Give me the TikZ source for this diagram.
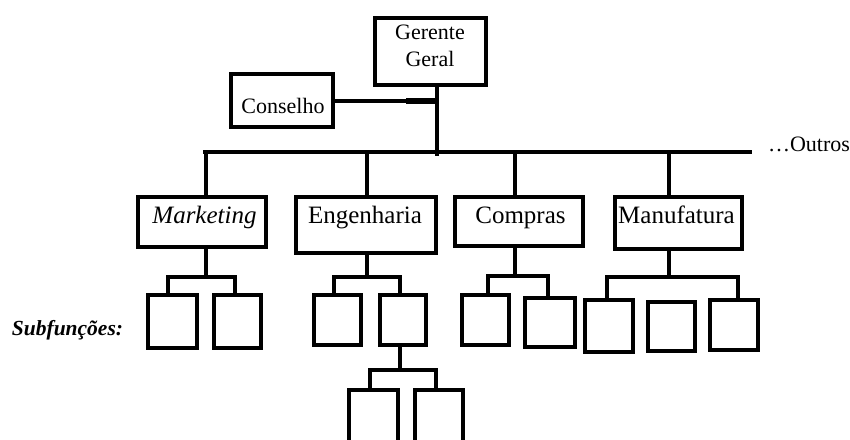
\documentclass[tikz,border=0pt]{standalone}
\usepackage{fontspec}
\setmainfont{Liberation Serif}
\begin{document}
\begin{tikzpicture}[x=1pt,y=-1pt,
  box/.style={draw, line width=3.5pt, rectangle, inner sep=0pt},
  ln/.style={line width=3.5pt},
  txt/.style={inner sep=0pt, anchor=base},
  small/.style={font=\fontsize{22}{26}\selectfont},
  big/.style={font=\fontsize{25}{30}\selectfont}]
\useasboundingbox (0,0) rectangle (850,439);
\clip (0,0) rectangle (850,439);
% top boxes
\node[box, minimum width=111pt, minimum height=67pt] (gg) at (430.5,51.5) {};
\node[txt, small] (ggt1) at (430,39) {Gerente};
\node[txt, small] (ggt2) at (430,66) {Geral};
\node[box, minimum width=102pt, minimum height=53pt] (con) at (282,100.5) {};
\node[txt, small] (cont) at (283,113) {Conselho};
% department boxes
\node[box, minimum width=128pt, minimum height=50pt] (mk) at (202,222) {};
\node[txt, big] (mkt) at (204.5,223) {\itshape Marketing};
\node[box, minimum width=140pt, minimum height=56pt] (en) at (366,225) {};
\node[txt, big] (ent) at (365,223) {Engenharia};
\node[box, minimum width=128pt, minimum height=49pt] (cp) at (519,221.5) {};
\node[txt, big] (cpt) at (520.5,223) {Compras};
\node[box, minimum width=127pt, minimum height=52pt] (mf) at (678.5,223) {};
\node[txt, big] (mft) at (676.5,223) {Manufatura};
\node[txt, small] (outros) at (809,151) {\ldots Outros};
\node[txt, font=\fontsize{21.5}{26}\selectfont\bfseries\itshape] (sub) at (67.5,335) {Subfunções:};
% sub boxes
\node[box, minimum width=49pt, minimum height=53pt] (m1) at (172.5,321.5) {};
\node[box, minimum width=47pt, minimum height=53pt] (m2) at (237.5,321.5) {};
\node[box, minimum width=47pt, minimum height=50pt] (e1) at (337.5,320) {};
\node[box, minimum width=46pt, minimum height=50pt] (e2) at (403,320) {};
\node[box, minimum width=49pt, minimum height=60pt] (ee1) at (373.5,420) {};
\node[box, minimum width=48pt, minimum height=60pt] (ee2) at (439,420) {};
\node[box, minimum width=47pt, minimum height=50pt] (c1) at (485.5,320) {};
\node[box, minimum width=50pt, minimum height=49pt] (c2) at (550,322.5) {};
\node[box, minimum width=48pt, minimum height=52pt] (f1) at (609,326) {};
\node[box, minimum width=47pt, minimum height=49pt] (f2) at (671.5,326.5) {};
\node[box, minimum width=48pt, minimum height=50pt] (f3) at (734,325) {};
% main bar
\coordinate (barL) at (203,152);
\coordinate (barR) at (752,152);
\coordinate (ggd) at (437,156);
\coordinate (conj) at (437,101);
\draw[ln] (barL) -- (barR);
\draw[ln] (gg.south -| ggd) -- (ggd);
\draw[ln] (con.east |- conj) -- (conj);
\draw[line width=6pt] (406,101) -- (conj);
% drops to departments
\draw[ln] (barL -| 206,0) -- (mk.north -| 206,0);
\draw[ln] (barL -| 367,0) -- (en.north -| 367,0);
\draw[ln] (barL -| 515,0) -- (cp.north -| 515,0);
\draw[ln] (barL -| 669,0) -- (mf.north -| 669,0);
% marketing subs
\coordinate (mkb) at (206,277);
\draw[ln] (mk.south -| mkb) -- (mkb);
\draw[ln] (m1.north -| 168,0) -- (168,277) -- (235,277) -- (m2.north -| 235,0);
% engenharia subs
\coordinate (enb) at (367,277);
\draw[ln] (en.south -| enb) -- (enb);
\draw[ln] (e1.north -| 334,0) -- (334,277) -- (400,277) -- (e2.north -| 400,0);
\coordinate (e2b) at (400,370);
\draw[ln] (e2.south -| e2b) -- (e2b);
\draw[ln] (ee1.north -| 370,0) -- (370,370) -- (436,370) -- (ee2.north -| 436,0);
% compras subs
\coordinate (cpb) at (515,276);
\draw[ln] (cp.south -| cpb) -- (cpb);
\draw[ln] (c1.north -| 488,0) -- (488,276) -- (548,276) -- (c2.north -| 548,0);
% manufatura subs
\coordinate (mfb) at (669,277);
\draw[ln] (mf.south -| mfb) -- (mfb);
\draw[ln] (f1.north -| 607,0) -- (607,277) -- (738,277) -- (f3.north -| 738,0);
\end{tikzpicture}
\end{document}
